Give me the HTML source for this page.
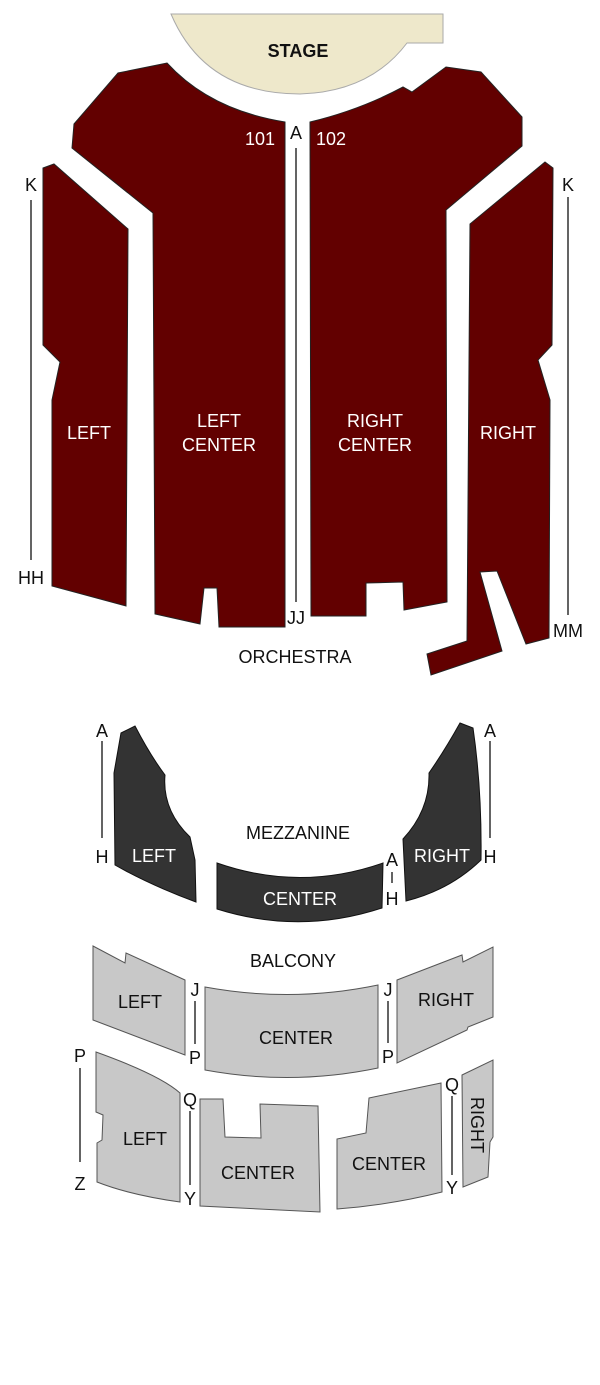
<!DOCTYPE html>
<html><head><meta charset="utf-8"><style>
html,body{margin:0;padding:0;background:#fff;}
svg{display:block;font-family:"Liberation Sans",Arial,sans-serif;}
</style></head><body>
<svg width="600" height="1385" viewBox="0 0 600 1385" xmlns="http://www.w3.org/2000/svg">
<!-- Stage -->
<path d="M171,14 Q205,94 300,94 Q370,92 407,43 L443,43 L443,14 Z" fill="#eee8cb" stroke="#aaa" stroke-width="1"/>
<text x="298" y="57" font-size="18" font-weight="bold" text-anchor="middle" fill="#111">STAGE</text>

<g fill="#620000" stroke="#222" stroke-width="1">
<!-- Left center -->
<path d="M167,63 Q210,110 285,122 L285,627 L219,627 L217,588 L204,588 L200,624 L155,614 L153,213 L72,148 L74,124 L118,73 Z"/>
<!-- Right center -->
<path d="M310,122 Q360,110 403,87 L412,92 L446,67 L481,72 L522,117 L522,146 L446,210 L447,602 L404,610 L403,582 L366,583 L366,616 L311,616 Z"/>
<!-- Left -->
<path d="M43,168 L54,164 L128,229 L126,606 L52,586 L52,400 L60,362 L43,345 Z"/>
<!-- Right -->
<path d="M470,224 L545,162 L553,168 L552,345 L538,360 L550,400 L549,638 L526,644 L497,571 L480,572 L502,651 L431,675 L427,654 L467,641 Z"/>
</g>

<g fill="#fff" font-size="18" text-anchor="middle">
<text x="89" y="439">LEFT</text>
<text x="219" y="427">LEFT</text><text x="219" y="451">CENTER</text>
<text x="375" y="427">RIGHT</text><text x="375" y="451">CENTER</text>
<text x="508" y="439">RIGHT</text>
<text x="260" y="145">101</text><text x="331" y="145">102</text>
</g>
<g stroke="#111" stroke-width="1.3">
<line x1="31" y1="200" x2="31" y2="560"/>
<line x1="568" y1="197" x2="568" y2="615"/>
<line x1="296" y1="148" x2="296" y2="602"/>
</g>
<g fill="#111" font-size="18" text-anchor="middle">
<text x="31" y="191">K</text><text x="31" y="584">HH</text>
<text x="568" y="191">K</text><text x="568" y="637">MM</text>
<text x="296" y="139">A</text><text x="296" y="624">JJ</text>
<text x="295" y="663">ORCHESTRA</text>
</g>

<!-- Mezzanine -->
<g fill="#333" stroke="#111" stroke-width="1">
<path d="M121,733 L135,726 Q150,755 165,775 Q162,810 190,837 L195,860 L196,902 Q150,885 115,865 L114,773 Z"/>
<path d="M217,863 Q300,892 383,863 L382,908 Q300,935 217,909 Z"/>
<path d="M460,723 L473,728 Q482,790 481,860 Q450,890 406,901 L403,839 Q430,810 429,773 Q445,750 460,723 Z"/>
</g>
<g fill="#fff" font-size="18" text-anchor="middle">
<text x="154" y="862">LEFT</text>
<text x="300" y="905">CENTER</text>
<text x="442" y="862">RIGHT</text>
</g>
<g stroke="#111" stroke-width="1.3">
<line x1="102" y1="741" x2="102" y2="838"/>
<line x1="490" y1="741" x2="490" y2="838"/>
<line x1="392" y1="872" x2="392" y2="883"/>
</g>
<g fill="#111" font-size="18" text-anchor="middle">
<text x="102" y="737">A</text><text x="102" y="863">H</text>
<text x="490" y="737">A</text><text x="490" y="863">H</text>
<text x="392" y="866">A</text><text x="392" y="905">H</text>
<text x="298" y="839">MEZZANINE</text>
<text x="293" y="967">BALCONY</text>
</g>

<!-- Balcony -->
<g fill="#c8c8c8" stroke="#555" stroke-width="1">
<path d="M93,946 L125,963 L126,953 L185,980 L185,1055 L93,1020 Z"/>
<path d="M205,987 Q292,1003 378,985 L378,1068 Q292,1086 205,1070 Z"/>
<path d="M397,980 L462,955 L463,962 L493,947 L493,1017 L468,1027 L467,1030 L397,1063 Z"/>
<path d="M96,1052 Q160,1075 180,1093 L180,1202 Q130,1195 97,1182 L97,1143 L102,1140 L103,1115 L96,1112 Z"/>
<path d="M200,1099 L223,1099 L225,1137 L261,1138 L260,1104 L318,1106 L320,1212 L200,1206 Z"/>
<path d="M369,1098 L441,1083 L442,1192 Q390,1205 337,1209 L337,1139 L366,1133 Z"/>
<path d="M462,1075 L493,1060 L493,1137 L490,1142 L488,1177 L463,1187 Z"/>
</g>
<g fill="#111" font-size="18" text-anchor="middle">
<text x="140" y="1008">LEFT</text>
<text x="296" y="1044">CENTER</text>
<text x="446" y="1006">RIGHT</text>
<text x="145" y="1145">LEFT</text>
<text x="258" y="1179">CENTER</text>
<text x="389" y="1170">CENTER</text>
<text x="0" y="0" transform="translate(471,1125) rotate(90)">RIGHT</text>
<text x="80" y="1062">P</text><text x="80" y="1190">Z</text>
<text x="195" y="996">J</text><text x="195" y="1064">P</text>
<text x="388" y="996">J</text><text x="388" y="1063">P</text>
<text x="190" y="1106">Q</text><text x="190" y="1205">Y</text>
<text x="452" y="1091">Q</text><text x="452" y="1194">Y</text>
</g>
<g stroke="#111" stroke-width="1.3">
<line x1="80" y1="1068" x2="80" y2="1162"/>
<line x1="195" y1="1001" x2="195" y2="1044"/>
<line x1="388" y1="1001" x2="388" y2="1043"/>
<line x1="190" y1="1111" x2="190" y2="1185"/>
<line x1="452" y1="1096" x2="452" y2="1175"/>
</g>
</svg>
</body></html>
